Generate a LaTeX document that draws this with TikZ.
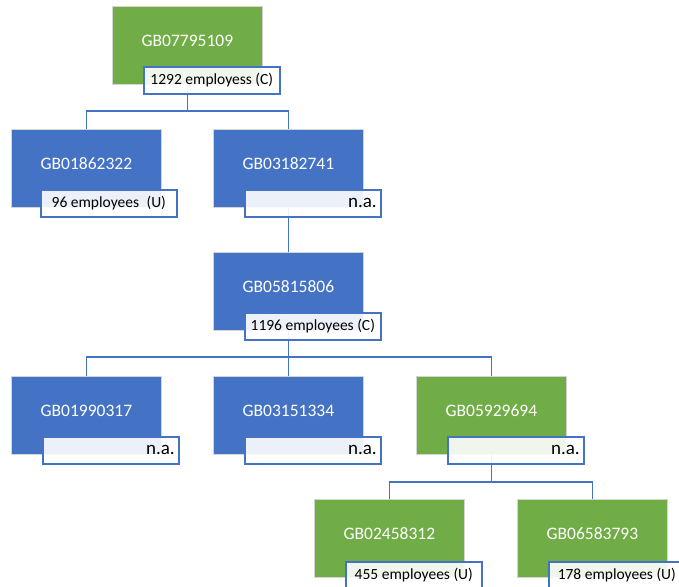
\documentclass[tikz,border=0pt]{standalone}
\usepackage{fontspec}
\setmainfont{Carlito}
\definecolor{cblue}{HTML}{4472C4}
\definecolor{cgreen}{HTML}{70AD47}
\definecolor{cedge}{HTML}{D4D4D4}
\tikzset{
  box/.style={rectangle, anchor=north west, minimum width=150pt, minimum height=78pt,
    inner sep=0pt, draw=cedge, line width=0.8pt, text=white,
    font=\fontsize{17.5}{20}\selectfont, text height=11.3pt, text depth=10pt},
  bluebox/.style={box, fill=cblue},
  greenbox/.style={box, fill=cgreen},
  lab/.style={rectangle, anchor=north west, minimum width=136pt, minimum height=27pt,
    inner sep=0pt, draw=cblue, line width=1.6pt, fill=white, fill opacity=0.9,
    text opacity=1, text=black, font=\fontsize{15.5}{18}\selectfont},
  nalab/.style={lab, font=\fontsize{19}{22}\selectfont, text width=128pt, align=right,
    inner xsep=4pt},
  conn/.style={draw=cblue, line width=1.8pt}
}
\begin{document}
\begin{tikzpicture}[x=1pt,y=-1pt]
\useasboundingbox (0,0) rectangle (679,586);
% boxes (positions)
\coordinate (p1) at (112,6);
\coordinate (p2) at (11,129);
\coordinate (p3) at (213,129);
\coordinate (p4) at (213,252);
\coordinate (p5) at (11,376);
\coordinate (p6) at (213,376);
\coordinate (p7) at (416,376);
\coordinate (p8) at (314,499);
\coordinate (p9) at (517,499);
% bus levels
\coordinate (bus1) at (0,111);
\coordinate (bus2) at (0,357);
\coordinate (bus3) at (0,482);

\node[greenbox] (n1) at (p1) {GB07795109};
\node[bluebox]  (n2) at (p2) {GB01862322};
\node[bluebox]  (n3) at (p3) {GB03182741};
\node[bluebox]  (n4) at (p4) {GB05815806};
\node[bluebox]  (n5) at (p5) {GB01990317};
\node[bluebox]  (n6) at (p6) {GB03151334};
\node[greenbox] (n7) at (p7) {GB05929694};
\node[greenbox] (n8) at (p8) {GB02458312};
\node[greenbox] (n9) at (p9) {GB06583793};

% connectors (drawn behind labels)
\draw[conn] (n1.south) -- (n1.south |- bus1) -| (n2.north);
\draw[conn] (n1.south |- bus1) -| (n3.north);
\draw[conn] (n3.south) -- (n4.north);
\draw[conn] (n4.south) -- (n4.south |- bus2) -| (n5.north);
\draw[conn] (n4.south |- bus2) -| (n6.north);
\draw[conn] (n4.south |- bus2) -| (n7.north);
\draw[conn] (n7.south) -- (n7.south |- bus3) -| (n8.north);
\draw[conn] (n7.south |- bus3) -| (n9.north);

% labels
\node[lab]   (l1) at ([shift={(31,60)}]p1) {1292 employess (C)};
\node[lab]   (l2) at ([shift={(29,60)}]p2) {96 employees\hspace{4pt} (U)};
\node[nalab] (l3) at ([shift={(31,60)}]p3) {n.a.};
\node[lab]   (l4) at ([shift={(31,60)}]p4) {1196 employees (C)};
\node[nalab] (l5) at ([shift={(31,60)}]p5) {n.a.};
\node[nalab] (l6) at ([shift={(31,60)}]p6) {n.a.};
\node[nalab] (l7) at ([shift={(31,60)}]p7) {n.a.};
\node[lab]   (l8) at ([shift={(31,62)}]p8) {455 employees (U)};
\node[lab]   (l9) at ([shift={(31,62)}]p9) {178 employees (U)};
\end{tikzpicture}
\end{document}
